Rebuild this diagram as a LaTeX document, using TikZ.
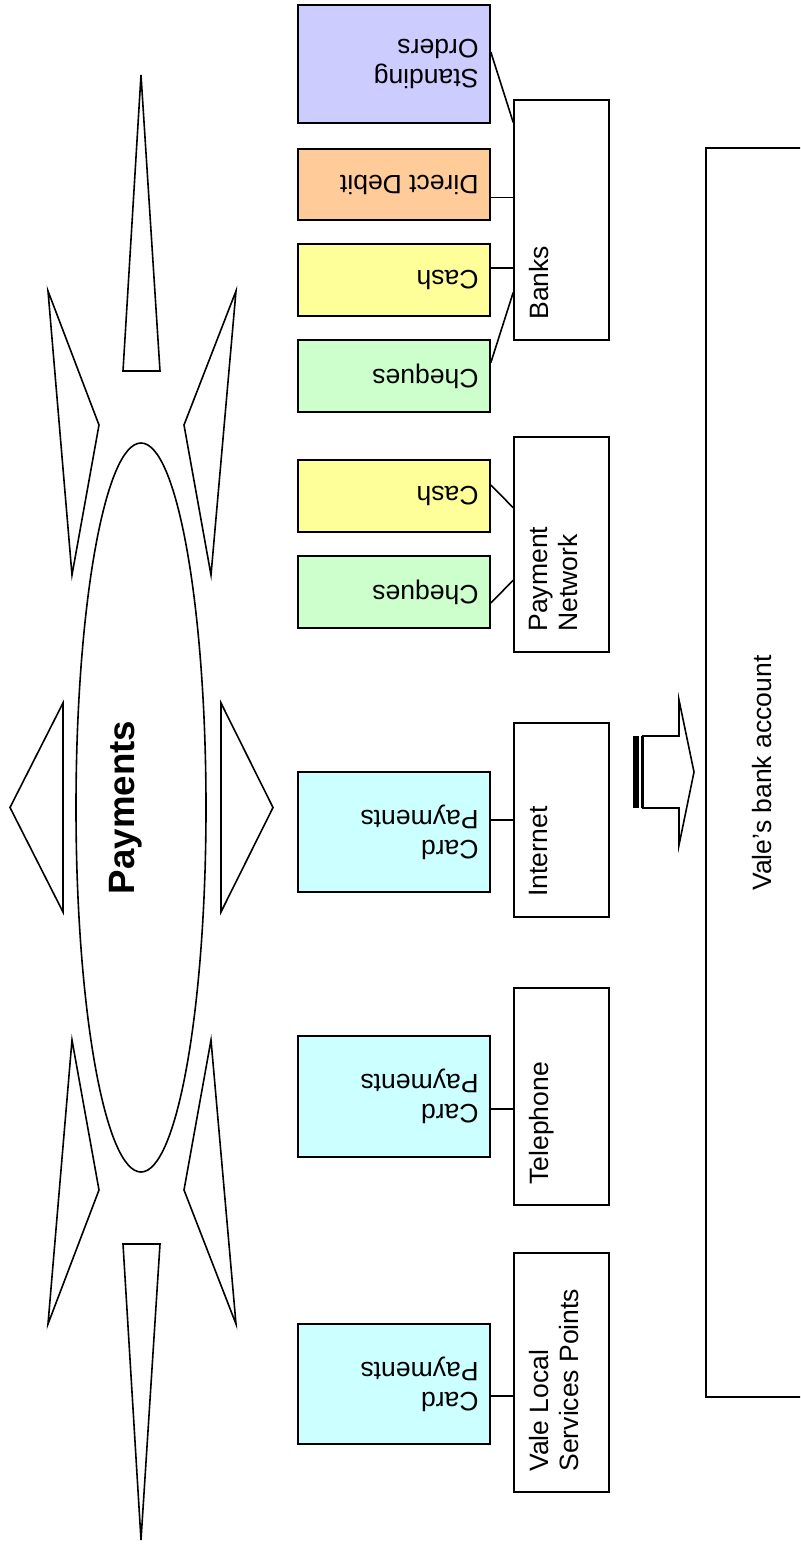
\documentclass[tikz,border=0pt]{standalone}
\usepackage{fontspec}
\setmainfont{Liberation Sans}
\usetikzlibrary{calc,fit}
\definecolor{lav}{HTML}{CCCCFF}
\definecolor{peach}{HTML}{FFCC99}
\definecolor{lyellow}{HTML}{FFFF99}
\definecolor{lgreen}{HTML}{CCFFCC}
\definecolor{lcyan}{HTML}{CCFFFF}
\tikzset{
  cbox/.style={draw, line width=1.2pt, inner sep=0pt},
  wbox/.style={draw, line width=1.2pt, inner sep=0pt, fill=white},
  ctext/.style={rotate=180, anchor=west, align=left, inner sep=0pt, font=\fontsize{19.9}{22.5}\selectfont},
  wtext/.style={rotate=90, anchor=north west, align=left, inner sep=0pt, font=\fontsize{19.9}{22.5}\selectfont},
  link/.style={line width=1.2pt},
  shp/.style={draw, line width=1.2pt, fill=white}
}
\begin{document}
\begin{tikzpicture}[x=0.75pt,y=-0.75pt]
\clip (0,0) rectangle (800,1544);
\fill[white] (0,0) rectangle (800,1544);

% central ellipse and title
\draw[line width=1.2pt] (141,807.5) ellipse [x radius=65, y radius=364.5];
\node[rotate=90, inner sep=0pt, font=\fontsize{27.5}{30}\selectfont\bfseries] (title) at (126,807.5) {Payments};

% top spikes
\draw[shp] (141,75) -- (160,371) -- (123,371) -- cycle;
\draw[shp] (48,291) -- (99,425) -- (72,575) -- cycle;
\draw[shp] (236,291) -- (184,425) -- (211,575) -- cycle;
% bottom spikes
\draw[shp] (141,1540) -- (160,1244) -- (123,1244) -- cycle;
\draw[shp] (48,1324) -- (99,1190) -- (72,1040) -- cycle;
\draw[shp] (236,1324) -- (184,1190) -- (211,1040) -- cycle;
% side triangles
\draw[shp] (10,807.5) -- (63,703) -- (63,912) -- cycle;
\draw[shp] (273,807.5) -- (221,703) -- (221,912) -- cycle;

% coloured boxes
\node[cbox, fill=lav,     fit={(298,5) (490,123)}]    (so)   {};
\node[cbox, fill=peach,   fit={(298,149) (490,220)}]  (dd)   {};
\node[cbox, fill=lyellow, fit={(298,244) (490,316)}]  (cash1) {};
\node[cbox, fill=lgreen,  fit={(298,340) (490,412)}]  (chq1) {};
\node[cbox, fill=lyellow, fit={(298,460) (490,532)}]  (cash2) {};
\node[cbox, fill=lgreen,  fit={(298,556) (490,628)}]  (chq2) {};
\node[cbox, fill=lcyan,   fit={(298,772) (490,892)}]  (card1) {};
\node[cbox, fill=lcyan,   fit={(298,1036) (490,1157)}] (card2) {};
\node[cbox, fill=lcyan,   fit={(298,1324) (490,1444)}] (card3) {};

\node[ctext] (soT)    at ($(so.east)+(-12,0)$)    {Standing\\Orders};
\node[ctext] (ddT)    at ($(dd.east)+(-12,0)$)    {Direct Debit};
\node[ctext] (cash1T) at ($(cash1.east)+(-12,0)$) {Cash};
\node[ctext] (chq1T)  at ($(chq1.east)+(-12,0)$)  {Cheques};
\node[ctext] (cash2T) at ($(cash2.east)+(-12,0)$) {Cash};
\node[ctext] (chq2T)  at ($(chq2.east)+(-12,0)$)  {Cheques};
\node[ctext] (card1T) at ($(card1.east)+(-12,0)$) {Card\\Payments};
\node[ctext] (card2T) at ($(card2.east)+(-12,0)$) {Card\\Payments};
\node[ctext] (card3T) at ($(card3.east)+(-12,0)$) {Card\\Payments};

% white channel boxes
\node[wbox, fit={(514,100) (609,340)}]   (banks) {};
\node[wbox, fit={(514,437) (609,652)}]   (pn)    {};
\node[wbox, fit={(514,723) (609,917)}]   (inet)  {};
\node[wbox, fit={(514,988) (609,1205)}]  (tel)   {};
\node[wbox, fit={(514,1253) (609,1492)}] (vale)  {};

\node[wtext] (banksT) at ($(banks.south west)+(16,-21)$) {Banks};
\node[wtext] (pnT)    at ($(pn.south west)+(16,-21)$)    {Payment\\Network};
\node[wtext] (inetT)  at ($(inet.south west)+(16,-21)$)  {Internet};
\node[wtext] (telT)   at ($(tel.south west)+(16,-21)$)   {Telephone};
\node[wtext] (valeT)  at ($(vale.south west)+(16,-21)$)  {Vale Local\\Services Points};

% bank account box
\node[wbox, fit={(706,148) (830,1397)}] (acct) {};
\node[rotate=90, inner sep=0pt, font=\fontsize{19.9}{22.5}\selectfont] (acctT) at (762.5,773) {Vale’s bank account};

% striped block arrow
\fill (633,736) rectangle (638.5,808);
\draw[shp] (643,736) -- (679,736) -- (679,700) -- (694,772) -- (679,845) -- (679,808) -- (643,808) -- cycle;
\fill (641,736) rectangle (643.5,808);

% connectors
\draw[link] ($(so.north east)!0.40!(so.south east)$) -- ($(banks.north west)!0.096!(banks.south west)$);
\path ($(dd.north east)!0.68!(dd.south east)$) coordinate (ddA);
\draw[link] (ddA) -- (ddA -| banks.west);
\path ($(cash1.north east)!0.333!(cash1.south east)$) coordinate (c1A);
\draw[link] (c1A) -- (c1A -| banks.west);
\draw[link] ($(chq1.north east)!0.32!(chq1.south east)$) -- ($(banks.north west)!0.80!(banks.south west)$);
\draw[link] ($(cash2.north east)!0.35!(cash2.south east)$) -- ($(pn.north west)!0.33!(pn.south west)$);
\draw[link] ($(chq2.north east)!0.65!(chq2.south east)$) -- ($(pn.north west)!0.665!(pn.south west)$);
\path ($(card1.north east)!0.4!(card1.south east)$) coordinate (k1A);
\draw[link] (k1A) -- (k1A -| inet.west);
\path ($(card2.north east)!0.6!(card2.south east)$) coordinate (k2A);
\draw[link] (k2A) -- (k2A -| tel.west);
\path ($(card3.north east)!0.6!(card3.south east)$) coordinate (k3A);
\draw[link] (k3A) -- (k3A -| vale.west);
\end{tikzpicture}
\end{document}
